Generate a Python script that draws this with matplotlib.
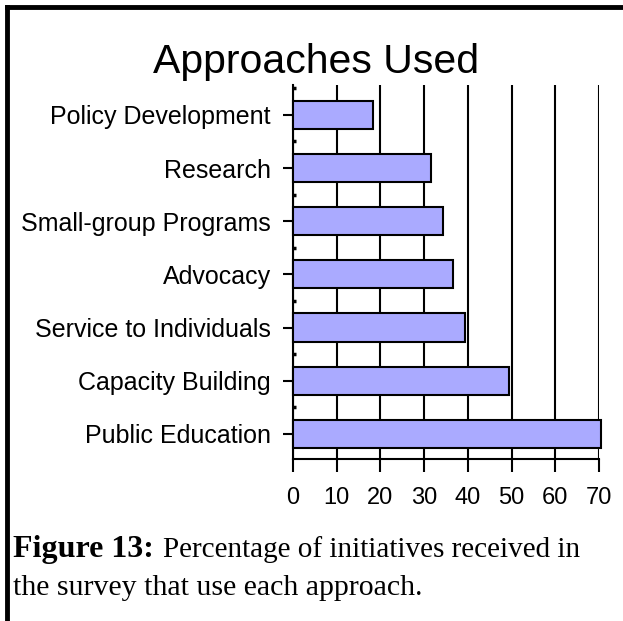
import matplotlib.pyplot as plt
from matplotlib.lines import Line2D

approaches = ['Public Education', 'Capacity Building', 'Service to Individuals',
              'Advocacy', 'Small-group Programs', 'Research', 'Policy Development']
percent = [70.4, 49.5, 39.3, 36.6, 34.3, 31.6, 18.3]
xticks = [0, 10, 20, 30, 40, 50, 60, 70]

plt.rcParams['font.family'] = 'Liberation Sans'

fig = plt.figure(figsize=(6.23, 6.21), dpi=100)
ax = fig.add_axes([0.4703, 0.2609, 0.4912, 0.6022])

pos = list(range(len(approaches)))
ax.barh(pos, percent, height=0.53, color='#aaaaff', edgecolor='black',
        linewidth=1.5, zorder=3, clip_on=False)

ax.set_xlim(0, 70)
ax.set_ylim(-0.47, 6.56)
ax.set_xticks(xticks)
ax.set_yticks(pos)
ax.set_yticklabels(approaches)
ax.set_yticks([p + 0.5 for p in pos], minor=True)

ax.grid(axis='x', color='black', linewidth=1.5, zorder=0)
ax.set_axisbelow(True)
for s in ['top', 'right']:
    ax.spines[s].set_visible(False)
for s in ['left', 'bottom']:
    ax.spines[s].set_linewidth(1.5)

ax.tick_params(axis='x', length=9.4, width=1.5, pad=11, labelsize=17)
ax.tick_params(axis='y', which='major', length=7, width=1.5, pad=9, labelsize=18)
ax.tick_params(axis='y', which='minor', direction='in', length=2.5, width=2.5)

fig.text(0.507, 0.8824, 'Approaches Used', ha='center', va='baseline', fontsize=29.5)

# caption below the chart
serif = 'Liberation Serif'
fig.text(0.021, 0.103, 'Figure 13:', fontsize=23, va='baseline',
         family=serif, weight='bold')
fig.text(0.2616, 0.103, 'Percentage of initiatives received in', fontsize=21,
         va='baseline', family=serif)
fig.text(0.021, 0.042, 'the survey that use each approach.', fontsize=21.5,
         va='baseline', family=serif)

# page frame on top and left
fig.add_artist(Line2D([0.0112, 1.0], [0.9887, 0.9887], color='black', linewidth=3.5))
fig.add_artist(Line2D([0.0112, 0.0112], [0.0, 0.9887], color='black', linewidth=3.5))

fig.savefig('out.png', dpi=100)
